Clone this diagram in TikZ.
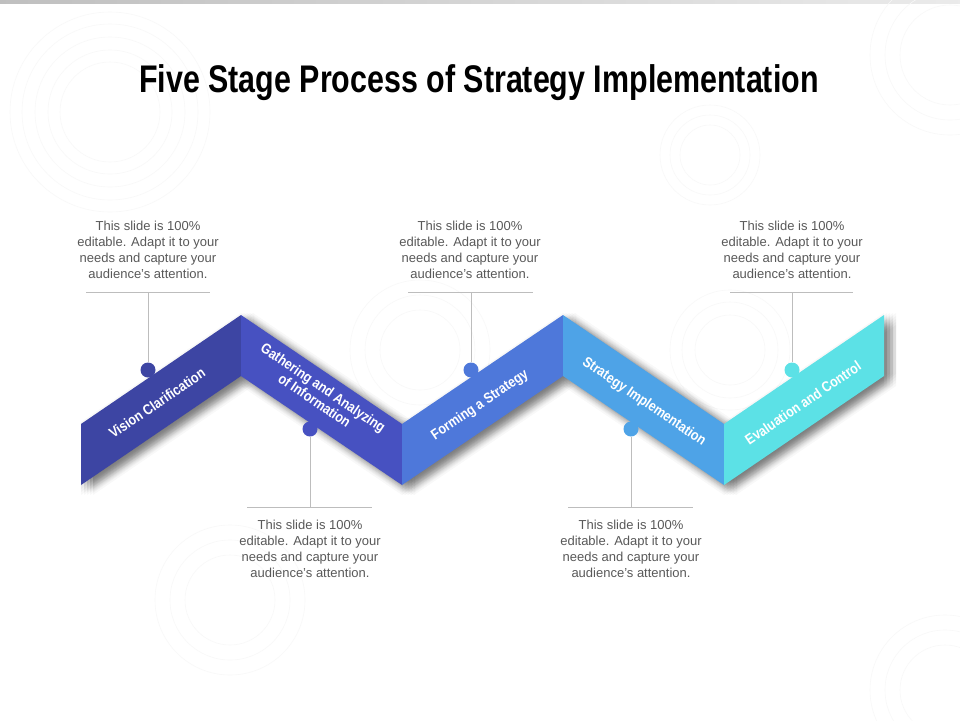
\documentclass[tikz,border=0pt]{standalone}
\usepackage{fontspec}
\setmainfont{Liberation Sans}
\newfontfamily\titlefont{Liberation Sans}[FakeStretch=0.79]
\newfontfamily\labfont{Liberation Sans}[FakeStretch=0.86]
\definecolor{cA}{HTML}{3D45A3}
\definecolor{cB}{HTML}{4751C1}
\definecolor{cC}{HTML}{4E78DA}
\definecolor{cD}{HTML}{4EA3E7}
\definecolor{cE}{HTML}{5CE1E6}
\definecolor{txt}{HTML}{595959}
\definecolor{ln}{HTML}{BDBDBD}
\definecolor{ring}{HTML}{F8F8F8}
\tikzset{
  desc/.style={font=\fontsize{13}{16}\selectfont, text=txt, align=center, inner sep=0pt},
  dotnode/.style={circle, minimum size=15pt, inner sep=0pt},
  lead/.style={draw=ln, line width=0.9pt},
  lab/.style={font=\labfont\bfseries\fontsize{14.5}{15.5}\selectfont, text=white, align=center, inner sep=0pt},
  ringstyle/.style={draw=ring, line width=0.6pt},
}
\begin{document}
\begin{tikzpicture}[x=1pt,y=-1pt]
\useasboundingbox (0,0) rectangle (960,720);
\fill[white] (0,0) rectangle (960,720);
% top bar
\shade[left color=black!25, right color=black!8] (0,0) rectangle (960,3.5);
% faint background rings
\foreach \r in {50,62,75,88,100} \draw[ringstyle] (110,112) circle (\r);
\foreach \r in {30,40,50} \draw[ringstyle] (710,155) circle (\r);
\foreach \r in {40,55,70} \draw[ringstyle] (420,350) circle (\r);
\foreach \r in {45,60,75} \draw[ringstyle] (230,600) circle (\r);
\foreach \r in {50,65,80} \draw[ringstyle] (950,55) circle (\r);
\foreach \r in {45,60,75} \draw[ringstyle] (945,690) circle (\r);
\foreach \r in {35,48,60} \draw[ringstyle] (730,350) circle (\r);
% title
\node[anchor=base, inner sep=0pt, font=\titlefont\bfseries\fontsize{38.5}{40}\selectfont] (title) at (479,92) {Five Stage Process of Strategy Implementation};
% segments with shadows
\foreach \xa/\ya/\xb/\yb/\c in {81/424/241/315/cA, 241/315/402/424/cB, 402/424/563/315/cC, 563/315/724/424/cD, 724/424/884/315/cE}{
  \foreach \dx in {0,3,6,9,12}{
    \foreach \dy in {-2,1,4,7,10}{
      \fill[black, opacity=0.028] (\xa+\dx,\ya+\dy) -- (\xb+\dx,\yb+\dy) -- (\xb+\dx,\yb+61+\dy) -- (\xa+\dx,\ya+61+\dy) -- cycle;
    }
  }
  \fill[\c] (\xa,\ya) -- (\xb,\yb) -- (\xb,\yb+61) -- (\xa,\ya+61) -- cycle;
}
% segment labels
\foreach \n/\x/\y/\a/\t in {l1/157/403/34.2/{Vision Clarification}, l2/319/394/-34.2/{Gathering and Analyzing\\of Information}, l3/480/405/34.2/{Forming a Strategy}, l4/644/402/-34.2/{Strategy Implementation}, l5/803/403/34.2/{Evaluation and Control}}{
  \node[lab, rotate=\a] (\n) at (\x,\y) {\t};
}
% descriptions
\foreach \n/\x/\y in {d1/148/250, d3/470/250, d5/792/250, d2/310/549, d4/631/549}{
  \node[desc] (\n) at (\x,\y) {This slide is 100\%\\editable. Adapt it to your\\needs and capture your\\audience's attention.};
}
% dots
\node[dotnode, fill=cA] (p1) at (148,370) {};
\node[dotnode, fill=cB] (p2) at (310,429) {};
\node[dotnode, fill=cC] (p3) at (471,370) {};
\node[dotnode, fill=cD] (p4) at (631,429) {};
\node[dotnode, fill=cE] (p5) at (792,370) {};
% leader lines
\coordinate (h1a) at (86,292); \coordinate (h1b) at (210,292); \coordinate (h1c) at (148,292);
\coordinate (h3a) at (408,292); \coordinate (h3b) at (533,292); \coordinate (h3c) at (471,292);
\coordinate (h5a) at (730,292); \coordinate (h5b) at (853,292); \coordinate (h5c) at (792,292);
\coordinate (h2a) at (247,507); \coordinate (h2b) at (372,507); \coordinate (h2c) at (310,507);
\coordinate (h4a) at (568,507); \coordinate (h4b) at (693,507); \coordinate (h4c) at (631,507);
\foreach \i in {1,2,3,4,5}{
  \draw[lead] (h\i a) -- (h\i b);
  \draw[lead] (h\i c) -- (p\i);
}
\end{tikzpicture}
\end{document}
